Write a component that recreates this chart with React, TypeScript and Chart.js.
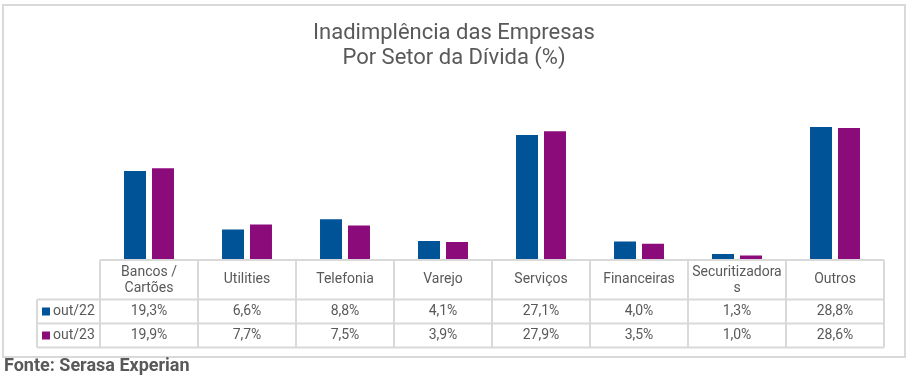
import React, { useEffect, useRef } from "react";
import { Chart, registerables } from "chart.js";

Chart.register(...registerables);

const categories = ["Bancos /\nCartões", "Utilities", "Telefonia", "Varejo", "Serviços", "Financeiras", "Securitizadora\ns", "Outros"];
const seriesNames = ["out/22", "out/23"];
const out22 = [19.3, 6.6, 8.8, 4.1, 27.1, 4.0, 1.3, 28.8];
const out23 = [19.9, 7.7, 7.5, 3.9, 27.9, 3.5, 1.0, 28.6];
const titleLines = ["Inadimplência das Empresas", "Por Setor da Dívida (%)"];
const sourceText = "Fonte: Serasa Experian";

const BLUE = "#005397";
const PURPLE = "#8C0B7B";
const TEXT = "#595959";
const GRID = "#D9D9D9";

const fmt = (v: number) => v.toFixed(1).replace(".", ",") + "%";

const tablePlugin = {
  id: "tablePlugin",
  afterDraw(chart: any) {
    const ctx = chart.ctx as CanvasRenderingContext2D;
    const area = chart.chartArea;
    const xs = chart.scales.x;
    const n = categories.length;
    const w = (area.right - area.left) / n;
    const top = area.bottom;
    const hb = top + 39.5;
    const r1 = hb + 24;
    const r2 = r1 + 24;
    const legLeft = 37;
    ctx.save();
    // outer border
    ctx.strokeStyle = GRID;
    ctx.lineWidth = 2;
    ctx.strokeRect(3, 5, 902, 352);
    // title
    ctx.fillStyle = TEXT;
    ctx.font = "22px Roboto";
    ctx.textAlign = "center";
    ctx.textBaseline = "middle";
    ctx.fillText(titleLines[0], 454, 33);
    ctx.fillText(titleLines[1], 454, 58);
    // table grid
    ctx.strokeStyle = GRID;
    ctx.lineWidth = 2;
    ctx.beginPath();
    ctx.moveTo(area.left, top); ctx.lineTo(area.right, top);
    ctx.moveTo(legLeft, hb); ctx.lineTo(area.right, hb);
    ctx.moveTo(legLeft, r1); ctx.lineTo(area.right, r1);
    ctx.moveTo(legLeft, r2); ctx.lineTo(area.right, r2);
    ctx.moveTo(legLeft, hb); ctx.lineTo(legLeft, r2);
    for (let i = 0; i <= n; i++) {
      const x = area.left + i * w;
      ctx.moveTo(x, top); ctx.lineTo(x, r2);
    }
    ctx.stroke();
    // header labels
    ctx.fillStyle = TEXT;
    ctx.font = "14px Roboto";
    for (let i = 0; i < n; i++) {
      const cx = xs.getPixelForValue(i);
      const lines = categories[i].split("\n");
      if (lines.length === 1) {
        ctx.fillText(lines[0], cx, (top + hb) / 2);
      } else {
        ctx.fillText(lines[0], cx, top + 12);
        ctx.fillText(lines[1], cx, top + 28);
      }
      ctx.fillText(fmt(out22[i]), cx, (hb + r1) / 2);
      ctx.fillText(fmt(out23[i]), cx, (r1 + r2) / 2);
    }
    // legend cells
    const rows = [[hb, r1, BLUE], [r1, r2, PURPLE]] as const;
    rows.forEach((r, k) => {
      const cy = (r[0] + r[1]) / 2;
      ctx.fillStyle = r[2];
      ctx.fillRect(42, cy - 4, 8, 8);
      ctx.fillStyle = TEXT;
      ctx.textAlign = "left";
      ctx.fillText(seriesNames[k], 53, cy);
    });
    // source
    ctx.fillStyle = TEXT;
    ctx.font = "bold 18px Roboto";
    ctx.textAlign = "left";
    ctx.fillText(sourceText, 4, 366);
    ctx.restore();
  },
};

export default function App() {
  const ref = useRef<HTMLCanvasElement>(null);
  useEffect(() => {
    document.body.style.margin = "0";
    const chart = new Chart(ref.current!, {
      type: "bar",
      data: {
        labels: categories,
        datasets: [
          { label: seriesNames[0], data: out22, backgroundColor: BLUE },
          { label: seriesNames[1], data: out23, backgroundColor: PURPLE },
        ],
      },
      options: {
        animation: false,
        responsive: false,
        maintainAspectRatio: false,
        devicePixelRatio: 1,
        categoryPercentage: 0.571,
        barPercentage: 0.786,
        layout: { padding: { left: 100, right: 23, top: 121.5, bottom: 125 } },
        plugins: { legend: { display: false }, title: { display: false }, tooltip: { enabled: false } },
        scales: {
          x: { display: false, grid: { display: false } },
          y: { display: false, min: 0, max: 30 },
        },
      },
      plugins: [tablePlugin],
    } as any);
    return () => chart.destroy();
  }, []);
  return <canvas ref={ref} width={907} height={385} style={{ display: "block" }} />;
}
